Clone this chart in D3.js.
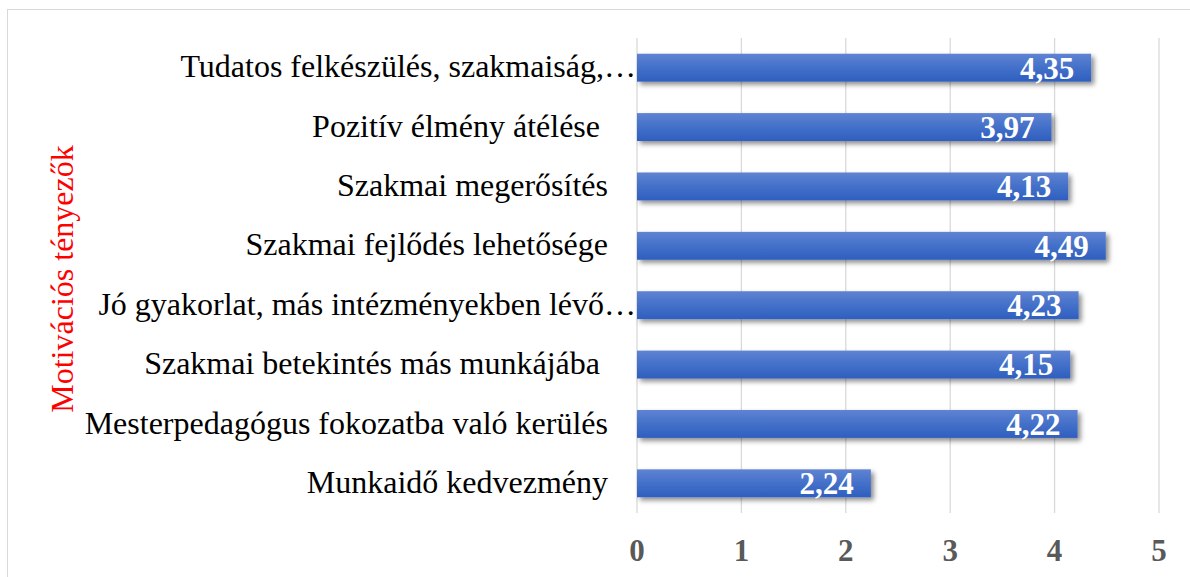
<!DOCTYPE html>
<html><head><meta charset="utf-8">
<script src="https://cdn.jsdelivr.net/npm/d3@7"></script>
<style>body{margin:0;background:#fff}text{white-space:pre}</style>
</head><body>
<svg id="c" width="1190" height="577"></svg>
<script>
const categories = [
  "Tudatos felkészülés, szakmaiság,…",
  "Pozitív élmény átélése ",
  "Szakmai megerősítés",
  "Szakmai fejlődés lehetősége",
  "Jó gyakorlat, más intézményekben lévő…",
  "Szakmai betekintés más munkájába ",
  "Mesterpedagógus fokozatba való kerülés",
  "Munkaidő kedvezmény"
];
const values = [4.35, 3.97, 4.13, 4.49, 4.23, 4.15, 4.22, 2.24];
const valueLabels = ["4,35", "3,97", "4,13", "4,49", "4,23", "4,15", "4,22", "2,24"];
const ticks = [0, 1, 2, 3, 4, 5];
const axisTitle = "Motivációs tényezők";

const svg = d3.select("#c");
const defs = svg.append("defs");
const g1 = defs.append("linearGradient").attr("id","bg").attr("x1",0).attr("y1",0).attr("x2",0).attr("y2",1);
g1.append("stop").attr("offset","0%").attr("stop-color","#5f83d2");
g1.append("stop").attr("offset","50%").attr("stop-color","#4370c9");
g1.append("stop").attr("offset","100%").attr("stop-color","#2f5fbf");
const f = defs.append("filter").attr("id","sh").attr("x","-5%").attr("y","-30%").attr("width","115%").attr("height","190%");
f.append("feDropShadow").attr("dx",3).attr("dy",3).attr("stdDeviation",2.5).attr("flood-color","#000").attr("flood-opacity",0.45);

// border
svg.append("rect").attr("x",7.5).attr("y",9.5).attr("width",1190).attr("height",600).attr("fill","none").attr("stroke","#d9d9d9").attr("stroke-width",1);

const x = d3.scaleLinear().domain([0,5]).range([637,1159]);
const y = d3.scaleBand().domain(categories).range([38,513]).paddingInner(0.53).paddingOuter(0.265);

// gridlines
svg.append("g").selectAll("line").data(ticks).join("line")
  .attr("x1",d=>x(d)).attr("x2",d=>x(d)).attr("y1",38).attr("y2",513)
  .attr("stroke","#d9d9d9").attr("stroke-width",1.3);

// bars
svg.append("g").selectAll("rect").data(values).join("rect")
  .attr("x",x(0)).attr("y",(d,i)=>y(categories[i]))
  .attr("width",d=>x(d)-x(0)).attr("height",y.bandwidth())
  .attr("fill","url(#bg)").attr("filter","url(#sh)");

// value labels
svg.append("g").selectAll("text").data(values).join("text")
  .attr("x",d=>x(d)-17).attr("y",(d,i)=>y(categories[i])+y.bandwidth()/2)
  .attr("dy","0.35em").attr("text-anchor","end")
  .attr("font-family","'Liberation Serif', serif").attr("font-weight","bold")
  .attr("font-size",31).attr("fill","#fff")
  .text((d,i)=>valueLabels[i]);

// category labels
svg.append("g").selectAll("text").data(categories).join("text")
  .attr("x",d=>d.endsWith("…") ? x(0)-1 : 608).attr("y",d=>y(d)+y.bandwidth()/2)
  .attr("dy","0.3em").attr("text-anchor","end")
  .attr("font-family","'Liberation Serif', serif")
  .attr("font-size",32).attr("fill","#000")
  .text(d=>d);

// x tick labels
svg.append("g").selectAll("text").data(ticks).join("text")
  .attr("x",d=>x(d)).attr("y",561).attr("text-anchor","middle")
  .attr("font-family","'Liberation Serif', serif").attr("font-weight","bold")
  .attr("font-size",31).attr("fill","#595959")
  .text(d=>d);

// axis title
svg.append("text").attr("transform","translate(62,279) rotate(-90)")
  .attr("text-anchor","middle").attr("dy","0.35em")
  .attr("font-family","'Liberation Serif', serif").attr("font-size",32).attr("fill","#ff0000")
  .text(axisTitle);
</script>
</body></html>
